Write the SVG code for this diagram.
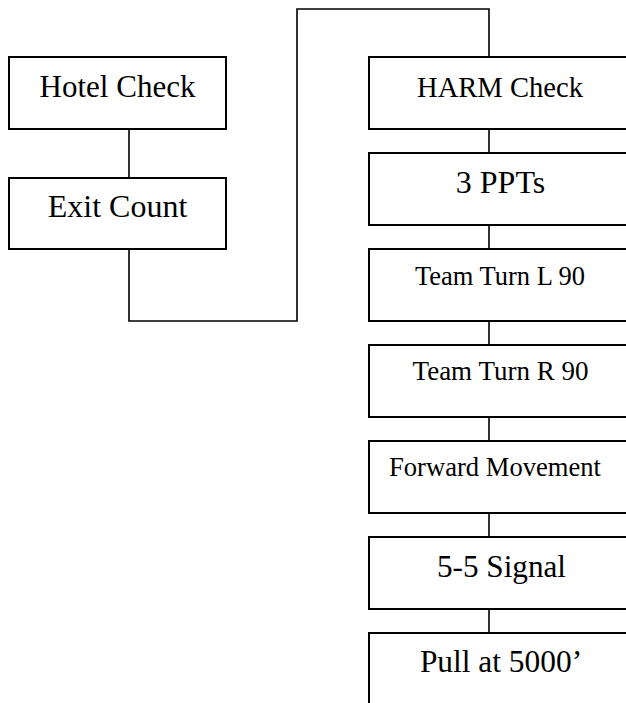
<svg xmlns="http://www.w3.org/2000/svg" width="626" height="703" viewBox="0 0 626 703">
<style>
.box{fill:#fff;stroke:#000;stroke-width:2}
.con{fill:none;stroke:#000;stroke-width:1.6}
text{font-family:"Liberation Serif","Times New Roman",serif;fill:#000;text-anchor:middle}
</style>
<rect width="626" height="703" fill="#fff"/>
<g id="connectors">
<path class="con" d="M129,129 V178"/>
<path class="con" d="M129,249 V321 H297 V9 H489 V57"/>
<path class="con" d="M489,129 V153"/>
<path class="con" d="M489,225 V249"/>
<path class="con" d="M489,321 V345"/>
<path class="con" d="M489,417 V441"/>
<path class="con" d="M489,513 V537"/>
<path class="con" d="M489,609 V633"/>
</g>
<g id="hotel-check"><rect class="box" x="9" y="57" width="217" height="72"/><text x="117.5" y="97" font-size="31">Hotel Check</text></g>
<g id="exit-count"><rect class="box" x="9" y="178" width="217" height="71"/><text x="117.5" y="217" font-size="32">Exit Count</text></g>
<g id="harm-check"><rect class="box" x="369" y="57" width="270" height="72"/><text x="500" y="97" font-size="28.6">HARM Check</text></g>
<g id="ppts"><rect class="box" x="369" y="153" width="270" height="72"/><text x="500.5" y="193" font-size="32">3 PPTs</text></g>
<g id="turn-left"><rect class="box" x="369" y="249" width="270" height="72"/><text x="500" y="285" font-size="26.5">Team Turn L 90</text></g>
<g id="turn-right"><rect class="box" x="369" y="345" width="270" height="72"/><text x="500.5" y="380" font-size="27">Team Turn R 90</text></g>
<g id="forward"><rect class="box" x="369" y="441" width="270" height="72"/><text x="495" y="476" font-size="26.6">Forward Movement</text></g>
<g id="signal"><rect class="box" x="369" y="537" width="270" height="72"/><text x="501.5" y="577" font-size="31.2">5-5 Signal</text></g>
<g id="pull"><rect class="box" x="369" y="633" width="270" height="90"/><text x="501" y="672" font-size="31.4">Pull at 5000’</text></g>
</svg>
